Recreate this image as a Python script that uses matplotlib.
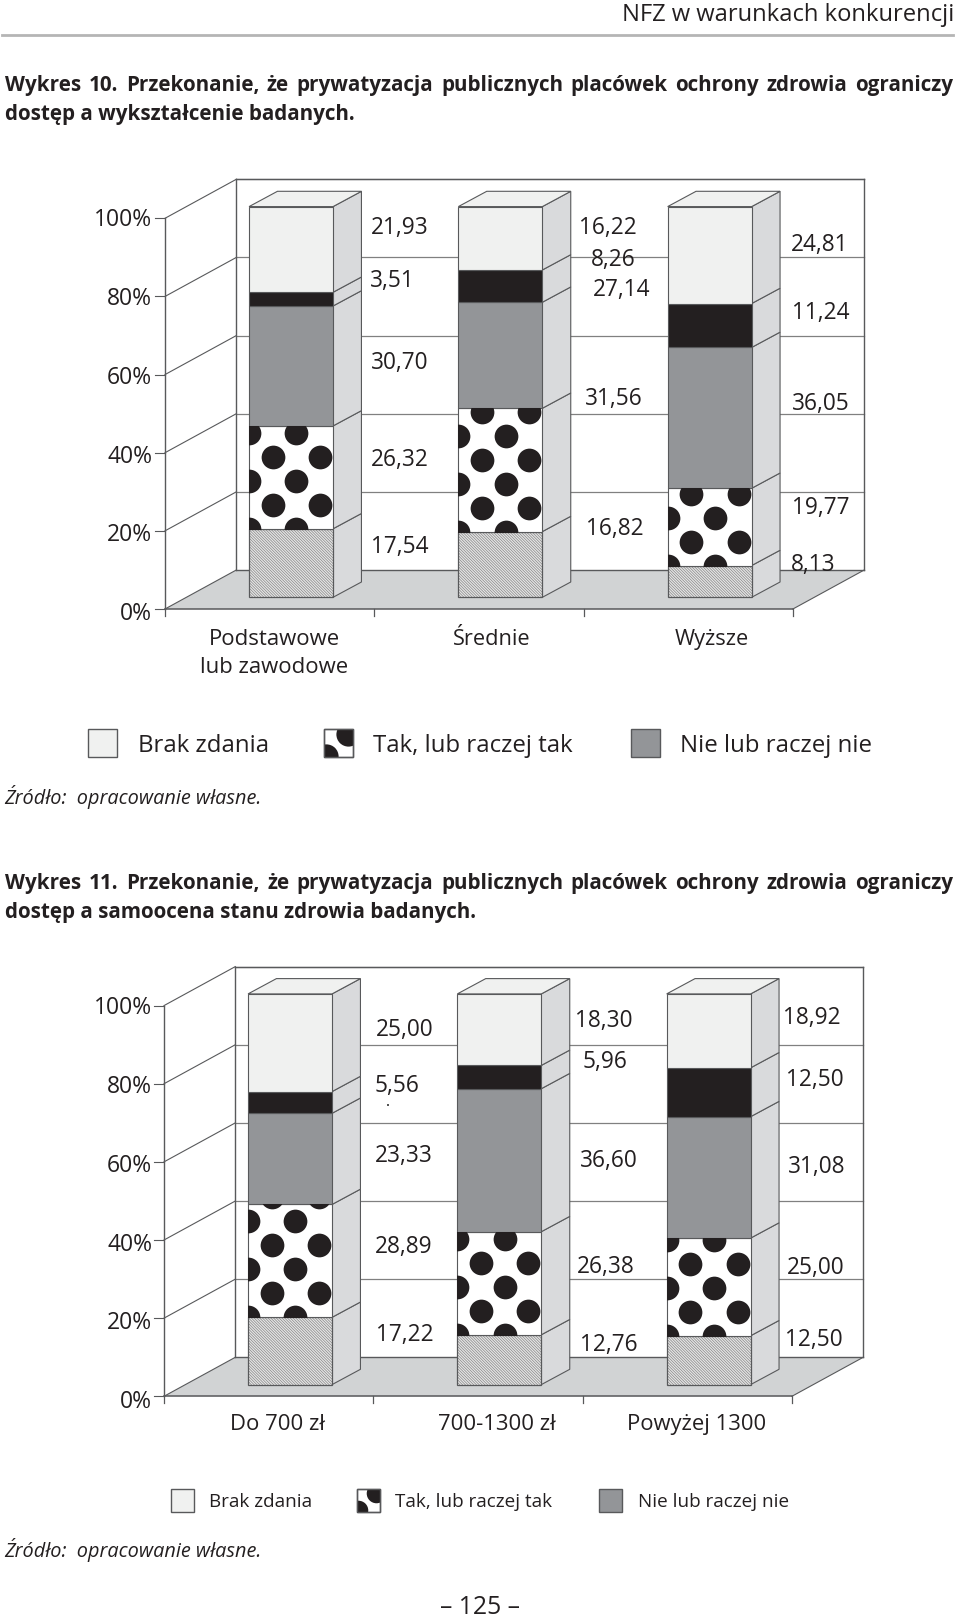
import matplotlib
matplotlib.use('Agg')
import matplotlib.pyplot as plt
from matplotlib.patches import Rectangle, Polygon

plt.rcParams['font.family'] = ['Open Sans', 'DejaVu Sans']
plt.rcParams['hatch.linewidth'] = 0.5

W, H = 960, 1617

# values, bottom to top of each bar
categories_1 = ['Podstawowe\nlub zawodowe', 'Średnie', 'Wyższe']
hatched_1 = [17.54, 16.82, 8.13]
tak_1 = [26.32, 31.56, 19.77]
nie_1 = [30.70, 27.14, 36.05]
black_1 = [3.51, 8.26, 11.24]
brak_1 = [21.93, 16.22, 24.81]

categories_2 = ['Do 700 zł', '700-1300 zł', 'Powyżej 1300']
hatched_2 = [17.22, 12.76, 12.50]
tak_2 = [28.89, 26.38, 25.00]
nie_2 = [23.33, 36.60, 31.08]
black_2 = [5.56, 5.96, 12.50]
brak_2 = [25.00, 18.30, 18.92]

y_ticks = [0, 20, 40, 60, 80, 100]
legend_labels = ['Brak zdania', 'Tak, lub raczej tak', 'Nie lub raczej nie']

# where the value labels sit, pixels, bar by bar (bottom to top)
label_pos_1 = [
    [(400, 545), (400, 458), (400, 361), (392, 279), (400, 226)],
    [(615, 527), (614, 397), (622, 288), (613, 258), (608, 226)],
    [(813, 563), (821, 506), (821, 402), (821, 311), (820, 243)],
]
label_pos_2 = [
    [(405, 1333), (404, 1245), (404, 1154), (397, 1084), (405, 1028)],
    [(609, 1343), (606, 1265), (609, 1159), (605, 1060), (604, 1019)],
    [(814, 1338), (816, 1266), (817, 1165), (815, 1078), (812, 1016)],
]

TEXT = '#231f20'
LINE = '#58595b'
GRID = '#808080'
LIGHT = '#f0f1f0'
SIDE = '#d9dadc'
GRAY = '#939598'
DARK = '#231f20'
FLOOR = '#d1d3d4'

# px per unit on the chart axes
PX_X = 209.3
PX_Y = 3.907
WALL_X, WALL_Y = 71.3 / PX_X, 39 / PX_Y
OFF_X, OFF_Y = 21.4 / PX_X, 11.7 / PX_Y
DEPTH_X, DEPTH_Y = 28.4 / PX_X, 15.3 / PX_Y
BAR_W = 84 / PX_X

fig = plt.figure(figsize=(W / 100, H / 100), dpi=100)


def draw_dots(ax, x_left, bottom, top, clip):
    xs, ys = [], []
    row = 0
    while bottom + row * 24 / PX_Y < top + 12 / PX_Y:
        steps = [1, 3] if row % 2 else [0, 2]
        for k in steps:
            xs.append(x_left + k * 23.7 / PX_X)
            ys.append(bottom + row * 24 / PX_Y)
        row += 1
    dots = ax.scatter(xs, ys, s=292, color=DARK, linewidths=0, zorder=4)
    dots.set_clip_path(clip)


def draw_chart(x0, y0, categories, series):
    ax = fig.add_axes([x0 / W, 1 - y0 / H, 3 * PX_X / W, 100 * PX_Y / H])
    ax.set_xlim(0, 3)
    ax.set_ylim(0, 100)
    ax.axis('off')

    # walls and floor
    ax.add_patch(Polygon([(0, 0), (3, 0), (3 + WALL_X, WALL_Y), (WALL_X, WALL_Y)], fc=FLOOR,
                         ec='none', clip_on=False, zorder=1))
    for t in y_ticks[1:]:
        ax.plot([WALL_X, 3 + WALL_X], [t + WALL_Y, t + WALL_Y], color=GRID, lw=0.9, clip_on=False, zorder=1)
    for t in y_ticks:
        ax.plot([0, WALL_X], [t, t + WALL_Y], color=LINE, lw=0.8, clip_on=False, zorder=2)
        ax.plot([-10 / PX_X, 0], [t, t], color=LINE, lw=0.8, clip_on=False, zorder=2)
    ax.plot([WALL_X, 3 + WALL_X], [100 + WALL_Y, 100 + WALL_Y], color=LINE, lw=1, clip_on=False, zorder=2)
    ax.plot([WALL_X, 3 + WALL_X], [WALL_Y, WALL_Y], color=LINE, lw=1, clip_on=False, zorder=2)
    ax.plot([0, 0], [0, 100], color=LINE, lw=1, clip_on=False, zorder=2)
    for x in [WALL_X, 3 + WALL_X]:
        ax.plot([x, x], [WALL_Y, 100 + WALL_Y], color=LINE, lw=1, clip_on=False, zorder=2)
    ax.plot([3, 3 + WALL_X], [0, WALL_Y], color=LINE, lw=0.8, clip_on=False, zorder=2)
    ax.plot([0, 3], [0, 0], color=LINE, lw=1.1, clip_on=False, zorder=2)
    for x in range(4):
        ax.plot([x, x], [0, -7 / PX_Y], color=LINE, lw=0.9, clip_on=False, zorder=2)

    # bars
    colors = ['white', 'white', GRAY, DARK, LIGHT]
    for i in range(3):
        x_c = i + 0.5 + OFF_X
        x_l, x_r = x_c - BAR_W / 2, x_c + BAR_W / 2
        bottom = OFF_Y
        for s, vals in enumerate(series):
            v = vals[i]
            top = bottom + v
            ax.add_patch(Polygon([(x_r, bottom), (x_r + DEPTH_X, bottom + DEPTH_Y),
                                  (x_r + DEPTH_X, top + DEPTH_Y), (x_r, top)],
                                 fc=SIDE, ec=LINE, lw=0.8, clip_on=False, zorder=3))
            if s == 0:
                ax.bar(x_c, v, BAR_W, bottom=bottom, color='#e6e6e6', edgecolor='#868686',
                       hatch='\\' * 12, lw=0, clip_on=False, zorder=3)
                ax.bar(x_c, v, BAR_W, bottom=bottom, color='none', edgecolor=LINE,
                       lw=0.9, clip_on=False, zorder=3)
            else:
                rect = ax.bar(x_c, v, BAR_W, bottom=bottom, color=colors[s], edgecolor=LINE,
                              lw=0.8, clip_on=False, zorder=3)[0]
                if s == 1:
                    draw_dots(ax, x_l, bottom, top, rect)
            bottom = top
        ax.add_patch(Polygon([(x_l, bottom), (x_r, bottom), (x_r + DEPTH_X, bottom + DEPTH_Y),
                              (x_l + DEPTH_X, bottom + DEPTH_Y)],
                             fc=LIGHT, ec=LINE, lw=0.8, clip_on=False, zorder=3))
    return ax


series_1 = [hatched_1, tak_1, nie_1, black_1, brak_1]
series_2 = [hatched_2, tak_2, nie_2, black_2, brak_2]
draw_chart(165, 609, categories_1, series_1)
draw_chart(164, 1396.3, categories_2, series_2)

# page layer in image pixels
page = fig.add_axes([0, 0, 1, 1])
page.set_xlim(0, W)
page.set_ylim(H, 0)
page.axis('off')
page.patch.set_alpha(0)
renderer = fig.canvas.get_renderer()


def put(x, y, s, size=16, ha='center', **kw):
    # y is the visual middle of the digits/capitals
    return page.text(x, y + size * 0.5, s, fontsize=size, ha=ha, va='baseline', color=TEXT, **kw)


def justified(y, s, x0=5, x1=953, size=14.9):
    words = s.split()
    items = [put(x0, y, w, size=size, ha='left', fontweight='bold') for w in words]
    widths = [t.get_window_extent(renderer).width for t in items]
    gap = (x1 - x0 - sum(widths)) / (len(words) - 1)
    x = x0
    for t, w in zip(items, widths):
        t.set_x(x)
        x += w + gap


page.plot([2, 953], [34.7, 34.7], color='#b5b5b5', lw=2)
put(954, 12, 'NFZ w warunkach konkurencji', size=17.1, ha='right')

justified(83.5, 'Wykres 10. Przekonanie, że prywatyzacja publicznych placówek ochrony zdrowia ograniczy')
put(5, 112.5, 'dostęp a wykształcenie badanych.', size=14.9, ha='left', fontweight='bold')
justified(882, 'Wykres 11. Przekonanie, że prywatyzacja publicznych placówek ochrony zdrowia ograniczy')
put(5, 910.5, 'dostęp a samoocena stanu zdrowia badanych.', size=14.9, ha='left', fontweight='bold')

put(4, 797, 'Źródło:  opracowanie własne.', size=14.3, ha='left', style='italic')
put(4, 1550, 'Źródło:  opracowanie własne.', size=14.3, ha='left', style='italic')
put(479.5, 1605, '– 125 –', size=17.8)

for series, positions in [(series_1, label_pos_1), (series_2, label_pos_2)]:
    for i in range(3):
        for s, vals in enumerate(series):
            x, y = positions[i][s]
            put(x, y, f'{vals[i]:.2f}'.replace('.', ','), size=16.3)

# the printed tick labels run slightly wider than the tick marks
for y_top in [218, 1006]:
    for t in y_ticks:
        put(152, y_top + (100 - t) * 3.94, f'{t}%', size=16.5, ha='right')

put(274, 637, categories_1[0].split('\n')[0], size=15.9)
put(274, 665, categories_1[0].split('\n')[1], size=15.9)
put(492, 637, categories_1[1], size=15.7)
put(712, 637, categories_1[2], size=15.7)
put(278, 1422, categories_2[0], size=15.9)
put(497, 1422, categories_2[1], size=15.9)
put(697, 1422, categories_2[2], size=15.8)


def swatches(y0, y1, xs, text_xs, size):
    side = y1 - y0
    for j, (x, tx) in enumerate(zip(xs, text_xs)):
        color = [LIGHT, 'white', GRAY][j]
        box = Rectangle((x, y0), side, side, fc=color, ec=LINE, lw=1, zorder=3)
        page.add_patch(box)
        if j == 1:
            sc = page.scatter([x + side * 0.83, x + side * 0.07], [y0 + side * 0.17, y0 + side * 0.93],
                              s=(side * 0.85 * 0.72) ** 2, color=DARK, linewidths=0, zorder=4)
            sc.set_clip_path(box)
            page.add_patch(Rectangle((x, y0), side, side, fc='none', ec=LINE, lw=1, zorder=5))
        put(tx, (y0 + y1) / 2, legend_labels[j], size=size, ha='left')


swatches(729, 757.5, [88.3, 324.3, 631.3], [137.5, 372.7, 679.5], 17.3)
swatches(1488.7, 1511.7, [170.7, 356.7, 599], [209.3, 395, 637.5], 13.6)

# stray speck printed under the 5,56 label
page.plot([388.3], [1104.7], marker='s', ms=1.6, color='#555555', mew=0)

fig.savefig('out.png', dpi=100)
